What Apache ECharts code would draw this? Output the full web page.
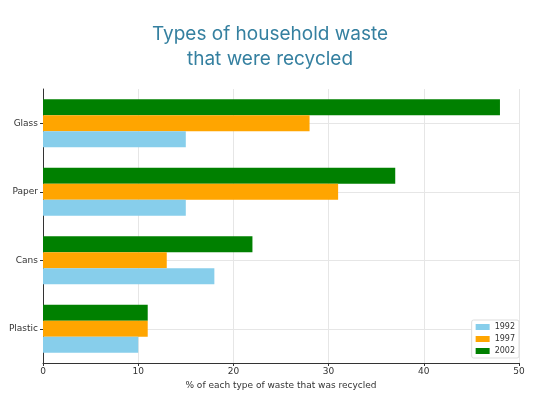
<!DOCTYPE html>
<html><head><meta charset="utf-8">
<script src="https://cdn.jsdelivr.net/npm/echarts@6/dist/echarts.min.js"></script>
<style>html,body{margin:0;padding:0;background:#fff}#c{width:540px;height:405px}</style>
</head><body><div id="c"></div>
<script>
const categories = ['Plastic', 'Cans', 'Paper', 'Glass'];
const years = ['1992', '1997', '2002'];
const values1992 = [10, 18, 15, 15];
const values1997 = [11, 13, 31, 28];
const values2002 = [11, 22, 37, 48];
const xTicks = [0, 10, 20, 30, 40, 50];
const colors = ['#87CEEB', '#FFA500', '#008000'];

const seriesData = [values1992, values1997, values2002];
const order = [2, 1, 0]; // 2002 drawn on top within each group
const chart = echarts.init(document.getElementById('c'), null, {renderer: 'canvas'});
chart.setOption({
  animation: false,
  backgroundColor: '#fff',
  title: {
    text: 'Types of household waste\nthat were recycled',
    left: 'center', top: 17,
    textStyle: {color: '#3580a0', fontFamily: 'Inter', fontWeight: 'normal', fontSize: 19, lineHeight: 25}
  },
  legend: {
    data: years, orient: 'vertical', right: 21, bottom: 47,
    itemWidth: 14, itemHeight: 6, itemGap: 4,
    padding: [3, 4], borderColor: '#ddd', borderWidth: 1, borderRadius: 2,
    backgroundColor: '#fff', icon: 'rect',
    textStyle: {fontSize: 8, color: '#333', fontFamily: 'DejaVu Sans'}
  },
  grid: {left: 43, right: 21, top: 89, bottom: 42, containLabel: false},
  xAxis: {
    type: 'value', min: xTicks[0], max: xTicks[xTicks.length - 1], interval: 10,
    name: '% of each type of waste that was recycled', nameLocation: 'middle', nameGap: 17,
    nameTextStyle: {fontSize: 9, color: '#333', fontFamily: 'DejaVu Sans'},
    axisLine: {show: true, lineStyle: {color: '#333', width: 1}},
    axisTick: {show: true, length: 3, lineStyle: {color: '#333'}},
    axisLabel: {fontSize: 9, color: '#333', fontFamily: 'DejaVu Sans', margin: 4},
    splitLine: {show: true, lineStyle: {color: '#e6e6e6', width: 1}}
  },
  yAxis: {
    type: 'category', data: categories,
    axisLine: {show: true, lineStyle: {color: '#333', width: 1}},
    axisTick: {show: true, alignWithLabel: true, length: 3, lineStyle: {color: '#333'}},
    axisLabel: {fontSize: 9, color: '#333', fontFamily: 'DejaVu Sans', margin: 5},
    splitLine: {show: true, alignWithLabel: true, lineStyle: {color: '#e6e6e6', width: 1}}
  },
  series: order.map(i => ({
    name: years[i], type: 'bar', data: seriesData[i], barWidth: 16, barGap: '0%',
    itemStyle: {color: colors[i]}
  }))
});
</script></body></html>
